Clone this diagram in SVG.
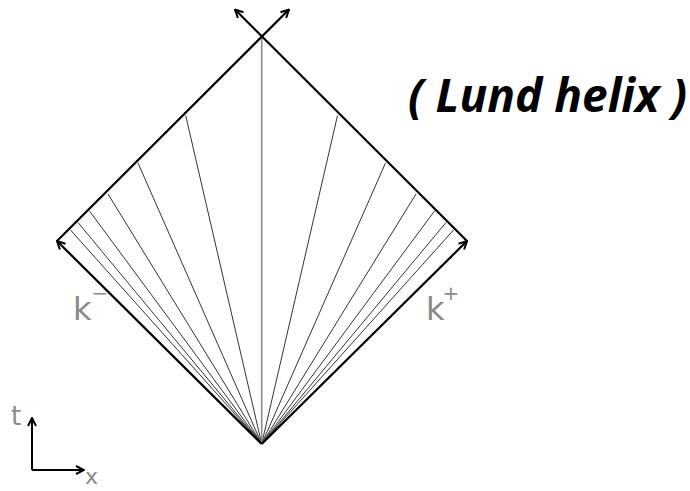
<svg xmlns="http://www.w3.org/2000/svg" width="690" height="491" viewBox="0 0 690 491">
<style>
.edge{stroke:#000;stroke-width:2.2;fill:none}
.fan{stroke:#333;stroke-width:1;fill:none}
.axis{stroke:#000;stroke-width:2;fill:none}
.lbl{font-family:"DejaVu Sans","Liberation Sans",sans-serif;fill:#8a8a8a}
.sup{font-size:20px}
.title{font-family:"Open Sans","Liberation Sans",sans-serif;font-weight:bold;font-style:italic;fill:#000}
</style>
<defs>
<marker id="arr" viewBox="0 0 10 10" refX="9" refY="5" markerWidth="10" markerHeight="10" markerUnits="userSpaceOnUse" orient="auto">
<path d="M1,1 L9,5 L1,9" fill="none" stroke="#000" stroke-width="2"/>
</marker>
</defs>
<rect width="690" height="491" fill="#fff"/>
<g id="connectors">
<line class="fan" x1="261.7" y1="444" x2="185.7" y2="115.5"/>
<line class="fan" x1="261.7" y1="444" x2="138" y2="163"/>
<line class="fan" x1="261.7" y1="444" x2="108" y2="194"/>
<line class="fan" x1="261.7" y1="444" x2="89.5" y2="211"/>
<line class="fan" x1="261.7" y1="444" x2="78" y2="222.5"/>
<line class="fan" x1="261.7" y1="444" x2="70.5" y2="230"/>
<line class="fan" x1="261.7" y1="444" x2="337.5" y2="115.5"/>
<line class="fan" x1="261.7" y1="444" x2="385.5" y2="163"/>
<line class="fan" x1="261.7" y1="444" x2="416" y2="194"/>
<line class="fan" x1="261.7" y1="444" x2="434.5" y2="211"/>
<line class="fan" x1="261.7" y1="444" x2="446" y2="222.5"/>
<line class="fan" x1="261.7" y1="444" x2="453.5" y2="230"/>
<line x1="261.7" y1="444" x2="261.7" y2="36" stroke="#8a8a8a" stroke-width="1.6"/>
<line class="edge" x1="261.7" y1="444" x2="57" y2="241" marker-end="url(#arr)"/>
<line class="edge" x1="261.7" y1="444" x2="467" y2="241" marker-end="url(#arr)"/>
<line class="edge" x1="57" y1="241" x2="289" y2="9.5" marker-end="url(#arr)"/>
<line class="edge" x1="467" y1="241" x2="235" y2="9.5" marker-end="url(#arr)"/>
<line class="axis" x1="32" y1="470" x2="32" y2="418" marker-end="url(#arr)"/>
<line class="axis" x1="32" y1="470" x2="84" y2="470" marker-end="url(#arr)"/>
</g>
<g id="labels">
<text class="lbl" x="73" y="320" font-size="32">k<tspan class="sup" dy="-20">−</tspan></text>
<text class="lbl" x="426" y="320" font-size="32">k<tspan class="sup" dy="-20" dx="-2">+</tspan></text>
<text class="lbl" x="11" y="425" font-size="26">t</text>
<text class="lbl" x="85" y="484" font-size="22">x</text>
</g>
<g id="title">
<text class="title" x="408" y="112" font-size="46" textLength="279" lengthAdjust="spacingAndGlyphs">( Lund helix )</text>
</g>
</svg>
